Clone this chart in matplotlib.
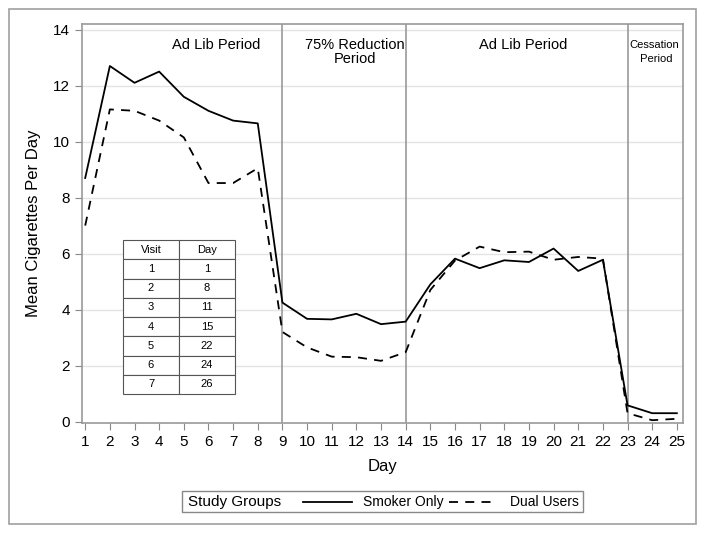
import matplotlib.pyplot as plt
from matplotlib.lines import Line2D
from matplotlib.patches import Rectangle

days = list(range(1, 26))
smoker_only = [8.7, 12.7, 12.1, 12.5, 11.6, 11.1, 10.75, 10.65, 4.25,
               3.67, 3.65, 3.85, 3.48, 3.57, 4.9, 5.82, 5.48, 5.76, 5.7,
               6.18, 5.38, 5.78, 0.58, 0.3, 0.3]
dual_users = [7.0, 11.15, 11.1, 10.75, 10.15, 8.52, 8.52, 9.05, 3.2,
              2.65, 2.32, 2.3, 2.17, 2.48, 4.7, 5.75, 6.25, 6.05, 6.07,
              5.78, 5.88, 5.82, 0.3, 0.05, 0.1]
period_breaks = [9, 14, 23]
visits = ['1', '2', '3', '4', '5', '6', '7']
visit_days = ['1', '8', '11', '15', '22', '24', '26']

plt.rcParams['font.family'] = ['Liberation Sans', 'DejaVu Sans']

fig = plt.figure(figsize=(7.04, 5.34), dpi=100)
ax = fig.add_axes([82 / 704, 1 - 423 / 534, 601 / 704, 399 / 534])

# outer border
fig.patches.append(Rectangle((9 / 704, 1 - 524 / 534), 687 / 704, 515 / 534,
                             transform=fig.transFigure, fill=False,
                             edgecolor='#a0a0a0', lw=1.2))

for y in range(2, 15, 2):
    ax.axhline(y, color='#e4e4e4', lw=1, zorder=0)
for d in period_breaks:
    ax.axvline(d, color='#999999', lw=1.2, zorder=1)

ax.plot(days, smoker_only, color='black', lw=1.3, zorder=3)
ax.plot(days, dual_users, color='black', lw=1.3, ls=(0, (5, 4)), zorder=3)

ax.set_xlim(0.87, 25.25)
ax.set_ylim(-0.05, 14.2)
ax.set_xticks(days)
ax.set_yticks(range(0, 15, 2))
ax.tick_params(colors='#888888', labelcolor='black', labelsize=11, length=5)
for s in ax.spines.values():
    s.set_color('#999999')
    s.set_linewidth(1.2)

ax.set_xlabel('Day', fontsize=12, labelpad=7)
ax.set_ylabel('Mean Cigarettes Per Day', fontsize=12, labelpad=9)

ax.text(6.3, 13.45, 'Ad Lib Period', ha='center', va='center', fontsize=10.5)
ax.text(11.95, 13.2, '75% Reduction\nPeriod', ha='center', va='center',
        fontsize=10.5, linespacing=1.05)
ax.text(18.75, 13.45, 'Ad Lib Period', ha='center', va='center', fontsize=10.5)
ax.text(24.1, 13.2, 'Cessation\n Period', ha='center', va='center',
        fontsize=8, linespacing=1.5)

# visit / day table
rows = [[v, d] for v, d in zip(visits, visit_days)]
tbl = ax.table(cellText=rows, colLabels=['Visit', 'Day'], cellLoc='center',
               bbox=[41 / 601, 29 / 399, 112 / 601, 154 / 399])
tbl.auto_set_font_size(False)
tbl.set_fontsize(8)
for cell in tbl.get_celld().values():
    cell.set_edgecolor('#555555')
    cell.set_linewidth(0.8)
    cell.set_facecolor('white')
tbl.set_zorder(4)

# legend box
fig.patches.append(Rectangle((182 / 704, 1 - 512 / 534), 401 / 704, 21 / 534,
                             transform=fig.transFigure, fill=False,
                             edgecolor='#888888', lw=1))
ly = 1 - 502 / 534
fig.text(188 / 704, ly, 'Study Groups', fontsize=11, va='center')
fig.add_artist(Line2D([303 / 704, 352 / 704], [ly, ly], color='black', lw=1.3))
fig.text(363 / 704, ly, 'Smoker Only', fontsize=10, va='center')
fig.add_artist(Line2D([449 / 704, 495 / 704], [ly, ly], color='black', lw=1.3,
                      ls=(0, (5, 4))))
fig.text(510 / 704, ly, 'Dual Users', fontsize=10, va='center')

fig.savefig('out.png', dpi=100)
